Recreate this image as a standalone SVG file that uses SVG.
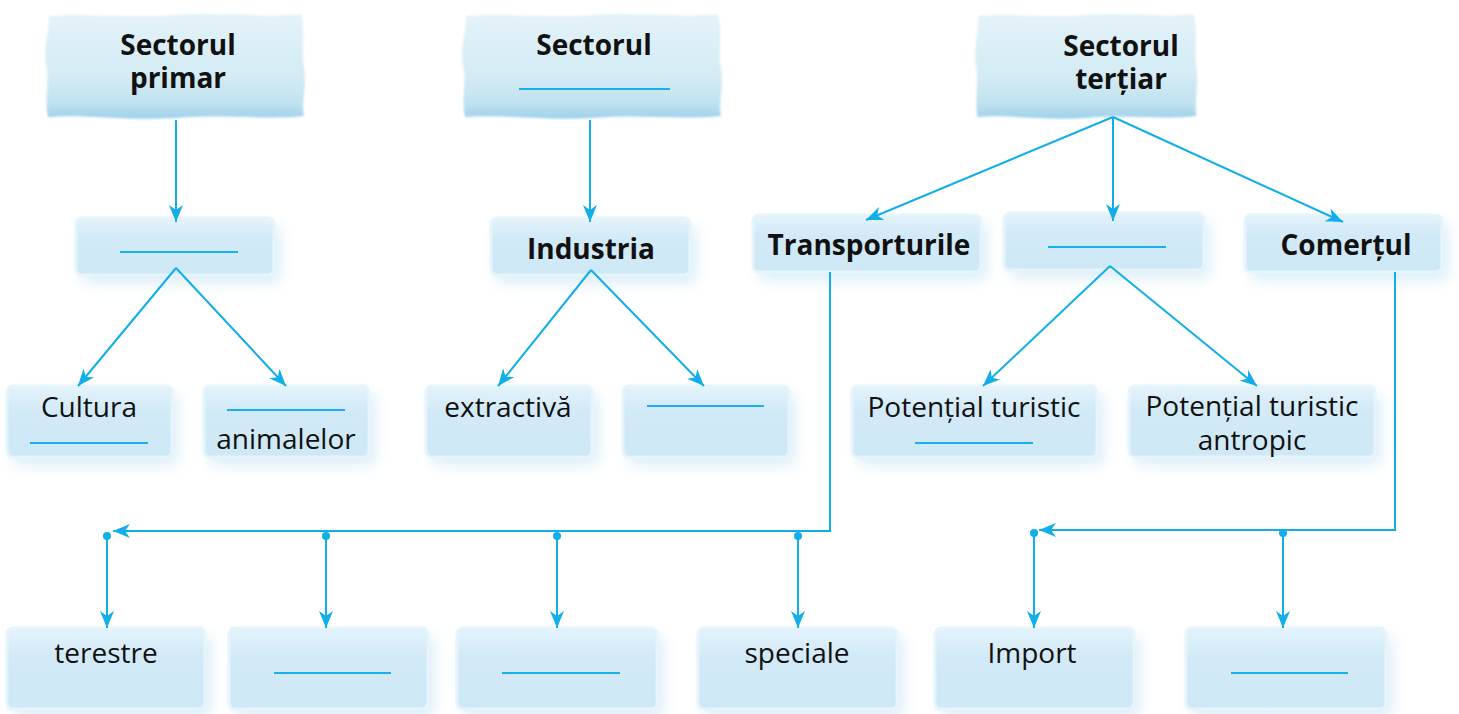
<svg xmlns="http://www.w3.org/2000/svg" width="1459" height="714" viewBox="0 0 1459 714">
<defs>
<style>
.t{font-family:"Open Sans","Liberation Sans",sans-serif;font-size:28px;fill:#111;text-anchor:middle}
.b{font-weight:bold;font-size:28px}
.blank{stroke:#1ab0ee;stroke-width:2.2;fill:none}
.con{stroke:#11aeea;stroke-width:2;fill:none}
.dot{fill:#11aeea}
.bx{fill:url(#bg);stroke:#e6f4fb;stroke-width:3}
.sh{fill:#cbe6f4;opacity:0.7;filter:url(#blur)}
.top{fill:url(#tg);filter:url(#soft)}
</style>
<linearGradient id="bg" x1="0" y1="0" x2="0" y2="1">
<stop offset="0" stop-color="#e4f3fb"/><stop offset="0.35" stop-color="#d2eaf7"/><stop offset="1" stop-color="#cfe8f6"/>
</linearGradient>
<linearGradient id="tg" x1="0" y1="0" x2="0" y2="1">
<stop offset="0" stop-color="#e4f3f9"/><stop offset="0.6" stop-color="#d3ebf4"/><stop offset="0.85" stop-color="#c1e2f0"/><stop offset="1" stop-color="#9ed1ea"/>
</linearGradient>
<filter id="blur" x="-20%" y="-30%" width="140%" height="160%"><feGaussianBlur stdDeviation="7"/></filter>
<filter id="soft" x="-5%" y="-5%" width="110%" height="110%"><feGaussianBlur stdDeviation="1.2"/></filter>
<path id="wavy" d="M4,3 C40,0 80,5 130,2 C180,-1 220,5 256,1 C261,20 256,40 259,55 C262,75 256,90 259,103 C220,107 180,101 130,105 C80,108 40,101 3,104 C-1,85 5,70 1,52 C-2,35 4,20 4,3 Z"/>
<marker id="ah" viewBox="-17 -7.5 18 15" refX="0" refY="0" markerWidth="18" markerHeight="15" markerUnits="userSpaceOnUse" orient="auto">
<path d="M0,0 L-17,-7 L-12,0 L-17,7 Z" fill="#11aeea"/>
</marker>
</defs>
<rect width="1459" height="714" fill="#fff"/>

<g id="sector-primar">
<use href="#wavy" class="top" transform="translate(45,13)"/>
<text class="t b"><tspan x="178" y="55">Sectorul</tspan><tspan x="178" y="88">primar</tspan></text>
</g>
<g id="sector-secundar">
<use href="#wavy" class="top" transform="translate(462,13)"/>
<text class="t b" x="594" y="55">Sectorul</text>
<line class="blank" x1="519" y1="89" x2="670" y2="89"/>
</g>
<g id="sector-tertiar">
<use href="#wavy" class="top" transform="translate(975,13) scale(0.855,1)"/>
<text class="t b"><tspan x="1121" y="56">Sectorul</tspan><tspan x="1121" y="89">terțiar</tspan></text>
</g>

<g id="agricultura">
<rect class="sh" x="82" y="226" width="198" height="57" rx="6"/>
<rect class="bx" x="76" y="218" width="198" height="57" rx="6"/>
<line class="blank" x1="120" y1="252" x2="238" y2="252"/>
</g>
<g id="industria">
<rect class="sh" x="497" y="226" width="199" height="57" rx="6"/>
<rect class="bx" x="491" y="218" width="199" height="57" rx="6"/>
<text class="t b" x="591" y="259">Industria</text>
</g>
<g id="transporturile">
<rect class="sh" x="759" y="223" width="228" height="57" rx="6"/>
<rect class="bx" x="753" y="215" width="228" height="57" rx="6"/>
<text class="t b" x="869" y="255">Transporturile</text>
</g>
<g id="turismul">
<rect class="sh" x="1010" y="221" width="200" height="57" rx="6"/>
<rect class="bx" x="1004" y="213" width="200" height="57" rx="6"/>
<line class="blank" x1="1048" y1="247" x2="1166" y2="247"/>
</g>
<g id="comertul">
<rect class="sh" x="1251" y="223" width="197" height="57" rx="6"/>
<rect class="bx" x="1245" y="215" width="197" height="57" rx="6"/>
<text class="t b" x="1346" y="255">Comerțul</text>
</g>

<g id="cultura">
<rect class="sh" x="13" y="394" width="165" height="71" rx="6"/>
<rect class="bx" x="7" y="386" width="165" height="71" rx="6"/>
<text class="t" x="89" y="417">Cultura</text>
<line class="blank" x1="30" y1="443" x2="148" y2="443"/>
</g>
<g id="animalelor">
<rect class="sh" x="210" y="394" width="165" height="71" rx="6"/>
<rect class="bx" x="204" y="386" width="165" height="71" rx="6"/>
<line class="blank" x1="227" y1="410" x2="345" y2="410"/>
<text class="t" x="286" y="449">animalelor</text>
</g>
<g id="extractiva">
<rect class="sh" x="432" y="394" width="166" height="71" rx="6"/>
<rect class="bx" x="426" y="386" width="166" height="71" rx="6"/>
<text class="t" x="508" y="417">extractivă</text>
</g>
<g id="prelucratoare">
<rect class="sh" x="629" y="394" width="166" height="71" rx="6"/>
<rect class="bx" x="623" y="386" width="166" height="71" rx="6"/>
<line class="blank" x1="647" y1="406" x2="764" y2="406"/>
</g>
<g id="potential-natural">
<rect class="sh" x="858" y="394" width="245" height="71" rx="6"/>
<rect class="bx" x="852" y="386" width="245" height="71" rx="6"/>
<text class="t" x="974" y="417">Potențial turistic</text>
<line class="blank" x1="915" y1="443" x2="1033" y2="443"/>
</g>
<g id="potential-antropic">
<rect class="sh" x="1135" y="394" width="246" height="71" rx="6"/>
<rect class="bx" x="1129" y="386" width="246" height="71" rx="6"/>
<text class="t"><tspan x="1252" y="416">Potențial turistic</tspan><tspan x="1252" y="450">antropic</tspan></text>
</g>

<g id="terestre">
<rect class="sh" x="13" y="636" width="198" height="81" rx="6"/>
<rect class="bx" x="7" y="628" width="198" height="81" rx="6"/>
<text class="t" x="106" y="663">terestre</text>
</g>
<g id="transport-2">
<rect class="sh" x="235" y="636" width="199" height="81" rx="6"/>
<rect class="bx" x="229" y="628" width="199" height="81" rx="6"/>
<line class="blank" x1="274" y1="673" x2="391" y2="673"/>
</g>
<g id="transport-3">
<rect class="sh" x="463" y="636" width="200" height="81" rx="6"/>
<rect class="bx" x="457" y="628" width="200" height="81" rx="6"/>
<line class="blank" x1="502" y1="673" x2="620" y2="673"/>
</g>
<g id="speciale">
<rect class="sh" x="704" y="636" width="199" height="81" rx="6"/>
<rect class="bx" x="698" y="628" width="199" height="81" rx="6"/>
<text class="t" x="797" y="663">speciale</text>
</g>
<g id="import">
<rect class="sh" x="941" y="636" width="199" height="81" rx="6"/>
<rect class="bx" x="935" y="628" width="199" height="81" rx="6"/>
<text class="t" x="1032" y="663">Import</text>
</g>
<g id="export">
<rect class="sh" x="1192" y="636" width="200" height="81" rx="6"/>
<rect class="bx" x="1186" y="628" width="200" height="81" rx="6"/>
<line class="blank" x1="1231" y1="673" x2="1348" y2="673"/>
</g>

<g id="connectors">
<path class="con" d="M176,120 V222" marker-end="url(#ah)"/>
<path class="con" d="M590,120 V222" marker-end="url(#ah)"/>
<path class="con" d="M1113,117 L866,220" marker-end="url(#ah)"/>
<path class="con" d="M1113,117 V221" marker-end="url(#ah)"/>
<path class="con" d="M1113,117 L1343,222" marker-end="url(#ah)"/>
<path class="con" d="M176,268 L78,386" marker-end="url(#ah)"/>
<path class="con" d="M176,268 L286,386" marker-end="url(#ah)"/>
<path class="con" d="M591,270 L498,386" marker-end="url(#ah)"/>
<path class="con" d="M591,270 L704,386" marker-end="url(#ah)"/>
<path class="con" d="M1110,266 L983,386" marker-end="url(#ah)"/>
<path class="con" d="M1110,266 L1257,386" marker-end="url(#ah)"/>
<path class="con" d="M830,272 V531 H113" marker-end="url(#ah)"/>
<circle class="dot" cx="107" cy="536" r="4"/>
<circle class="dot" cx="326" cy="536" r="4"/>
<circle class="dot" cx="557" cy="536" r="4"/>
<circle class="dot" cx="798" cy="536" r="4"/>
<path class="con" d="M107,536 V628" marker-end="url(#ah)"/>
<path class="con" d="M326,536 V628" marker-end="url(#ah)"/>
<path class="con" d="M557,536 V628" marker-end="url(#ah)"/>
<path class="con" d="M798,536 V628" marker-end="url(#ah)"/>
<path class="con" d="M1395,272 V530 H1039" marker-end="url(#ah)"/>
<circle class="dot" cx="1034" cy="533" r="4"/>
<circle class="dot" cx="1283" cy="533" r="4"/>
<path class="con" d="M1034,533 V628" marker-end="url(#ah)"/>
<path class="con" d="M1283,533 V628" marker-end="url(#ah)"/>
</g>
</svg>
